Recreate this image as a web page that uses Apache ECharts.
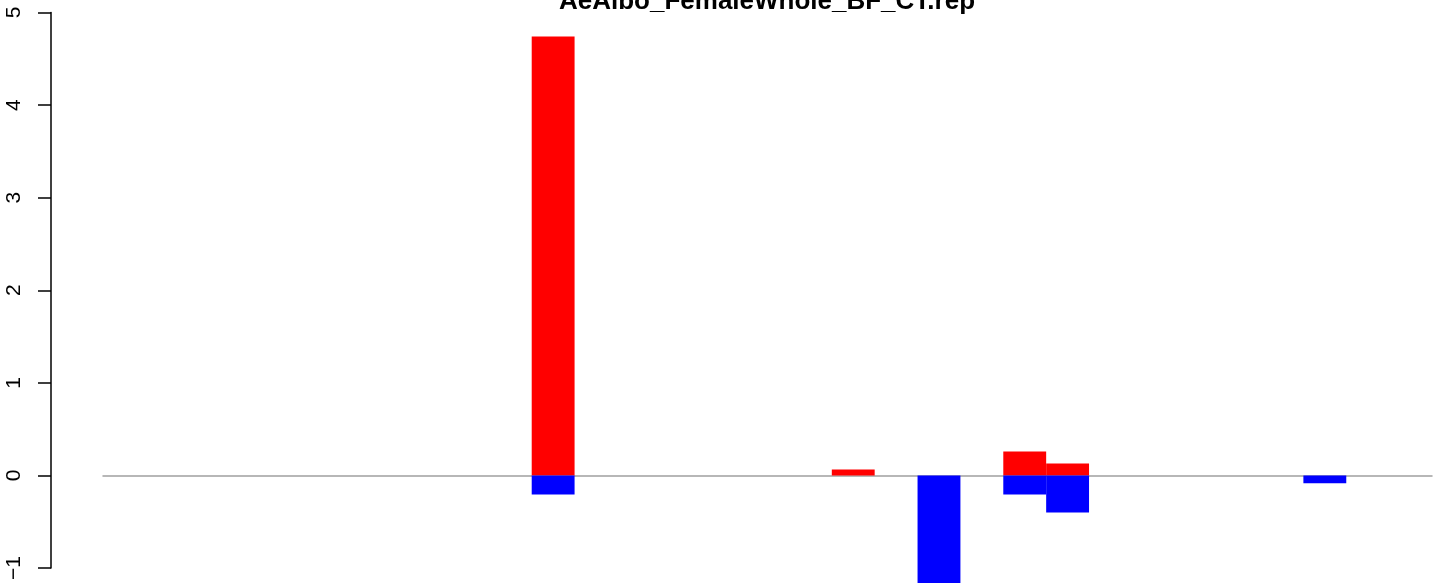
<!DOCTYPE html>
<html>
<head>
<meta charset="utf-8">
<script src="https://cdn.jsdelivr.net/npm/echarts@6/dist/echarts.min.js"></script>
<style>
html,body{margin:0;padding:0;background:#fff;}
#chart{width:1444px;height:583px;}
</style>
</head>
<body>
<div id="chart"></div>
<script>
// ---- data ----
var titleText = "AeAlbo_FemaleWhole_BF_CT.rep";
var categories = [];
for (var i = 1; i <= 31; i++) categories.push(String(i));
var upValues = [0,0,0,0,0,0,0,0,0,0, 4.74,0,0,0,0,0,0, 0.065,0,0,0, 0.26,0.13,0,0,0,0,0,0,0,0];
var downValues = [0,0,0,0,0,0,0,0,0,0, -0.205,0,0,0,0,0,0, 0,0,-1.25,0, -0.205,-0.40,0,0,0,0,0,-0.085,0,0];
var yTicks = [-1, 0, 1, 2, 3, 4, 5];

var chart = echarts.init(document.getElementById('chart'), null, {renderer: 'canvas'});
var font = 'Liberation Sans, Arial, sans-serif';
chart.setOption({
  animation: false,
  backgroundColor: '#ffffff',
  title: {
    text: titleText,
    left: 767,
    top: -11,
    padding: 0,
    textAlign: 'center',
    textStyle: {fontFamily: font, fontWeight: 'bold', fontSize: 26, color: '#000'}
  },
  grid: [
    {left: 51, top: 12.5, height: 555.5, width: 1, containLabel: false},
    {left: 103, right: 12, top: 12.5, bottom: 0, containLabel: false}
  ],
  xAxis: [
    {gridIndex: 0, type: 'value', show: false},
    {gridIndex: 1, type: 'category', data: categories,
     axisLine: {show: true, onZero: true, lineStyle: {color: '#a0a0a0', width: 1.5}},
     axisTick: {show: false}, axisLabel: {show: false}, splitLine: {show: false}}
  ],
  yAxis: [
    {gridIndex: 0, type: 'value', min: yTicks[0], max: yTicks[yTicks.length - 1], interval: 1,
     axisLine: {show: true, lineStyle: {color: '#000', width: 1.5}},
     axisTick: {show: true, length: 13, lineStyle: {color: '#000', width: 1.5}},
     axisLabel: {rotate: 90, margin: 26, fontFamily: font, fontSize: 21, color: '#000',
       formatter: function (v) { return v < 0 ? '\u2212' + Math.abs(v) : String(v); }},
     splitLine: {show: false}},
    {gridIndex: 1, type: 'value', min: -1.161, max: 5, show: false, splitLine: {show: false}}
  ],
  series: [
    {type: 'bar', xAxisIndex: 1, yAxisIndex: 1, stack: 's', data: upValues,
     barCategoryGap: 0, itemStyle: {color: '#ff0000'}},
    {type: 'bar', xAxisIndex: 1, yAxisIndex: 1, stack: 's', data: downValues,
     barCategoryGap: 0, itemStyle: {color: '#0000ff'}}
  ]
});
</script>
</body>
</html>
